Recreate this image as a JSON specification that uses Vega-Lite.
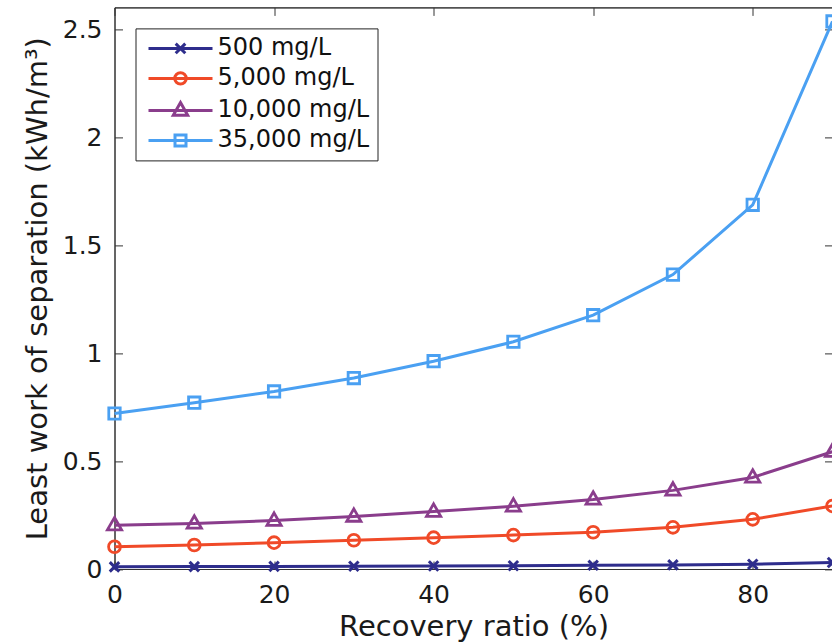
{
  "$schema": "https://vega.github.io/schema/vega-lite/v6.json",
  "autosize": {"type": "none"},
  "width": 718,
  "height": 561.6,
  "padding": {"left": 114.5, "top": 7.4, "right": 0, "bottom": 75},
  "background": "white",
  "config": {
    "font": "DejaVu Sans",
    "view": {"stroke": "#333333", "strokeWidth": 1},
    "axis": {
      "grid": false,
      "domainColor": "#333333",
      "tickColor": "#333333",
      "tickSize": -8,
      "labelFlush": false,
      "labelFont": "DejaVu Sans",
      "labelFontSize": 25,
      "labelColor": "#1a1a1a",
      "titleFont": "DejaVu Sans",
      "titleFontSize": 29,
      "titleFontWeight": "normal",
      "titleColor": "#1a1a1a"
    },
    "legend": {
      "title": null,
      "orient": "top-left",
      "offset": 21,
      "fillColor": "white",
      "strokeColor": "#222222",
      "padding": 8,
      "symbolSize": 400,
      "symbolStrokeWidth": 3,
      "symbolOpacity": 1,
      "symbolOffset": 25,
      "labelOffset": 25,
      "labelFont": "DejaVu Sans",
      "labelFontSize": 24,
      "labelColor": "#111111",
      "labelLimit": 0,
      "rowPadding": 6
    }
  },
  "data": {
    "values": [
      {"ratio": 0, "series": "500 mg/L", "work": 0.010},
      {"ratio": 10, "series": "500 mg/L", "work": 0.011},
      {"ratio": 20, "series": "500 mg/L", "work": 0.012},
      {"ratio": 30, "series": "500 mg/L", "work": 0.013},
      {"ratio": 40, "series": "500 mg/L", "work": 0.014},
      {"ratio": 50, "series": "500 mg/L", "work": 0.015},
      {"ratio": 60, "series": "500 mg/L", "work": 0.017},
      {"ratio": 70, "series": "500 mg/L", "work": 0.019},
      {"ratio": 80, "series": "500 mg/L", "work": 0.022},
      {"ratio": 90, "series": "500 mg/L", "work": 0.030},
      {"ratio": 0, "series": "5,000 mg/L", "work": 0.103},
      {"ratio": 10, "series": "5,000 mg/L", "work": 0.111},
      {"ratio": 20, "series": "5,000 mg/L", "work": 0.122},
      {"ratio": 30, "series": "5,000 mg/L", "work": 0.133},
      {"ratio": 40, "series": "5,000 mg/L", "work": 0.145},
      {"ratio": 50, "series": "5,000 mg/L", "work": 0.157},
      {"ratio": 60, "series": "5,000 mg/L", "work": 0.170},
      {"ratio": 70, "series": "5,000 mg/L", "work": 0.193},
      {"ratio": 80, "series": "5,000 mg/L", "work": 0.230},
      {"ratio": 90, "series": "5,000 mg/L", "work": 0.292},
      {"ratio": 0, "series": "10,000 mg/L", "work": 0.203},
      {"ratio": 10, "series": "10,000 mg/L", "work": 0.211},
      {"ratio": 20, "series": "10,000 mg/L", "work": 0.224},
      {"ratio": 30, "series": "10,000 mg/L", "work": 0.243},
      {"ratio": 40, "series": "10,000 mg/L", "work": 0.266},
      {"ratio": 50, "series": "10,000 mg/L", "work": 0.290},
      {"ratio": 60, "series": "10,000 mg/L", "work": 0.322},
      {"ratio": 70, "series": "10,000 mg/L", "work": 0.364},
      {"ratio": 80, "series": "10,000 mg/L", "work": 0.424},
      {"ratio": 90, "series": "10,000 mg/L", "work": 0.543},
      {"ratio": 0, "series": "35,000 mg/L", "work": 0.720},
      {"ratio": 10, "series": "35,000 mg/L", "work": 0.770},
      {"ratio": 20, "series": "35,000 mg/L", "work": 0.822},
      {"ratio": 30, "series": "35,000 mg/L", "work": 0.884},
      {"ratio": 40, "series": "35,000 mg/L", "work": 0.962},
      {"ratio": 50, "series": "35,000 mg/L", "work": 1.052},
      {"ratio": 60, "series": "35,000 mg/L", "work": 1.175},
      {"ratio": 70, "series": "35,000 mg/L", "work": 1.363},
      {"ratio": 80, "series": "35,000 mg/L", "work": 1.686},
      {"ratio": 90, "series": "35,000 mg/L", "work": 2.535}
    ]
  },
  "layer": [
    {
      "mark": {"type": "line", "strokeWidth": 3, "clip": false},
      "encoding": {
        "x": {
          "field": "ratio", "type": "quantitative",
          "scale": {"domain": [0, 90], "nice": false, "zero": false},
          "axis": {"orient": "bottom", "values": [0, 20, 40, 60, 80], "labelPadding": 21, "title": "Recovery ratio (%)", "titlePadding": 5}
        },
        "y": {
          "field": "work", "type": "quantitative",
          "scale": {"domain": [0, 2.6], "nice": false},
          "axis": {"orient": "left", "values": [0, 0.5, 1, 1.5, 2, 2.5], "format": "~g", "labelPadding": 20.5, "title": "Least work of separation (kWh/m³)", "titlePadding": 10}
        },
        "color": {
          "field": "series", "type": "nominal",
          "scale": {
            "domain": ["500 mg/L", "5,000 mg/L", "10,000 mg/L", "35,000 mg/L"],
            "range": ["#2e2d8c", "#f04a28", "#8a3d8c", "#4aa0f2"]
          }
        }
      }
    },
    {
      "description": "Key layer: carries the line-plus-marker glyphs used by the legend",
      "mark": {"type": "point", "filled": false, "opacity": 0, "size": 400, "strokeWidth": 3, "clip": false},
      "encoding": {
        "x": {"field": "ratio", "type": "quantitative", "axis": null},
        "y": {"field": "work", "type": "quantitative", "axis": null},
        "color": {"field": "series", "type": "nominal"},
        "shape": {
          "field": "series", "type": "nominal",
          "scale": {
            "domain": ["500 mg/L", "5,000 mg/L", "10,000 mg/L", "35,000 mg/L"],
            "range": [
              "M-3.2,0H3.2M-0.48,-0.48L0.48,0.48M-0.48,0.48L0.48,-0.48",
              "M-3.2,0H3.2M0.57,0A0.57,0.57 0 1,1 -0.57,0A0.57,0.57 0 1,1 0.57,0",
              "M-3.2,0H3.2M0,-0.78L0.72,0.48H-0.72Z",
              "M-3.2,0H3.2M-0.55,-0.55H0.55V0.55H-0.55Z"
            ]
          }
        }
      }
    },
    {
      "transform": [{"filter": "datum.series === '500 mg/L'"}],
      "mark": {"type": "point", "filled": false, "shape": "M-0.8,-0.8L0.8,0.8M-0.8,0.8L0.8,-0.8", "size": 140, "strokeWidth": 3, "opacity": 1, "clip": false},
      "encoding": {
        "x": {
          "field": "ratio", "type": "quantitative",
          "axis": {"orient": "top", "values": [0, 20, 40, 60, 80], "labels": false, "title": null}
        },
        "y": {
          "field": "work", "type": "quantitative",
          "axis": {"orient": "right", "values": [0, 0.5, 1, 1.5, 2, 2.5], "labels": false, "title": null}
        },
        "color": {"field": "series", "type": "nominal"}
      }
    },
    {
      "transform": [{"filter": "datum.series === '5,000 mg/L'"}],
      "mark": {"type": "point", "filled": false, "shape": "circle", "size": 140, "strokeWidth": 2.8, "opacity": 1, "clip": false},
      "encoding": {
        "x": {"field": "ratio", "type": "quantitative", "axis": null},
        "y": {"field": "work", "type": "quantitative", "axis": null},
        "color": {"field": "series", "type": "nominal"}
      }
    },
    {
      "transform": [{"filter": "datum.series === '10,000 mg/L'"}],
      "mark": {"type": "point", "filled": false, "shape": "M0,-1.3L1.2,0.8H-1.2Z", "size": 140, "strokeWidth": 2.8, "opacity": 1, "clip": false},
      "encoding": {
        "x": {"field": "ratio", "type": "quantitative", "axis": null},
        "y": {"field": "work", "type": "quantitative", "axis": null},
        "color": {"field": "series", "type": "nominal"}
      }
    },
    {
      "transform": [{"filter": "datum.series === '35,000 mg/L'"}],
      "mark": {"type": "point", "filled": false, "shape": "square", "size": 130, "strokeWidth": 2.8, "opacity": 1, "clip": false},
      "encoding": {
        "x": {"field": "ratio", "type": "quantitative", "axis": null},
        "y": {"field": "work", "type": "quantitative", "axis": null},
        "color": {"field": "series", "type": "nominal"}
      }
    }
  ],
  "resolve": {"axis": {"x": "independent", "y": "independent"}}
}
